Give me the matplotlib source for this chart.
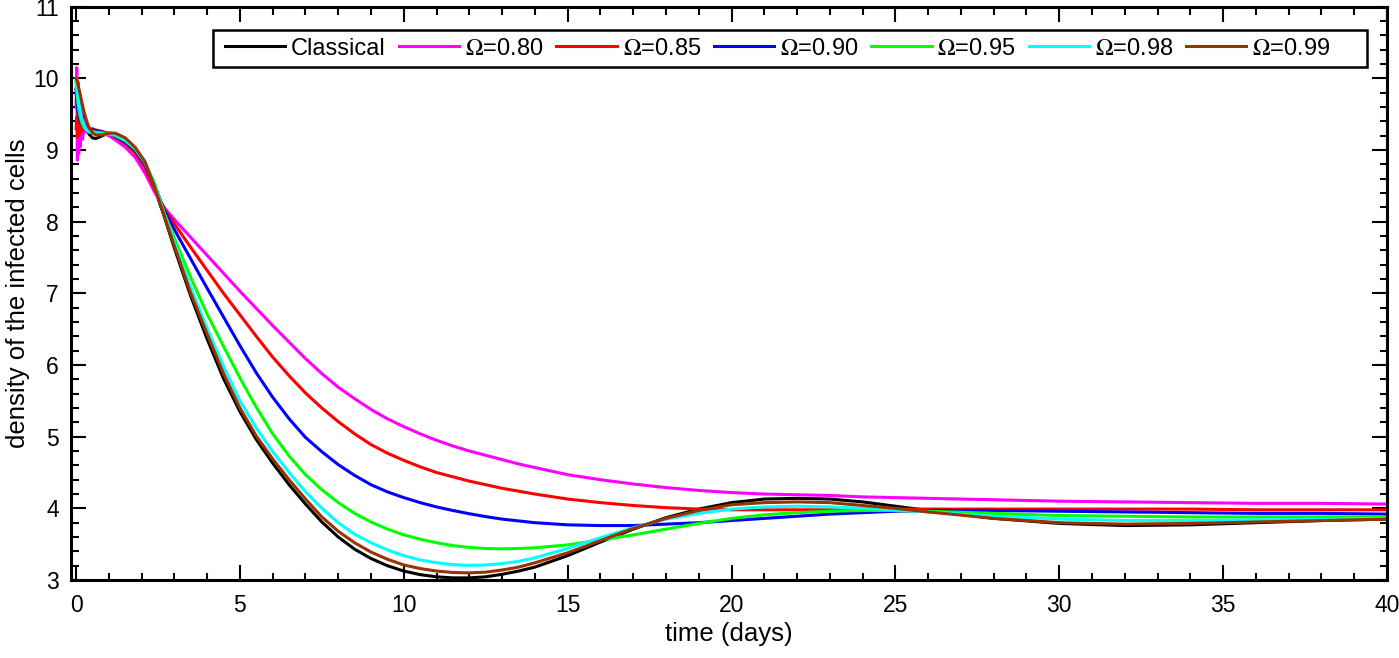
import matplotlib
matplotlib.use('Agg')
import matplotlib.pyplot as plt
from matplotlib.ticker import MultipleLocator
from matplotlib.patches import Rectangle

plt.rcParams['font.family'] = ['Liberation Sans', 'DejaVu Sans']
plt.rcParams['mathtext.fontset'] = 'stix'

# time grid (days): fine steps near t=0 where the fractional curves oscillate
t_early = [0, 0.02, 0.04, 0.06, 0.08, 0.1, 0.13, 0.16, 0.2, 0.25, 0.3, 0.35, 0.4, 0.5]
t_main = [0.6, 0.8, 1.0, 1.2, 1.5, 1.8, 2.1, 2.4, 2.7, 3.0, 3.5, 4.0, 4.5, 5.0, 5.5, 6.0, 6.5,
          7.0, 7.5, 8.0, 8.5, 9.0, 9.5, 10, 10.5, 11, 11.5, 12, 12.5, 13, 13.5, 14,
          15, 16, 17, 18, 19, 20, 21, 22, 23, 24, 25, 26,
          28, 30, 32, 34, 36, 38, 40]
t_days = t_early + t_main

labels = ['Classical', r'$\Omega$=0.80', r'$\Omega$=0.85', r'$\Omega$=0.90',
          r'$\Omega$=0.95', r'$\Omega$=0.98', r'$\Omega$=0.99']
colors = ['#000000', '#FF00FF', '#FF0000', '#0000FF', '#00FF00', '#00FFFF', '#993300']

classical = [10.0, 9.97, 9.93, 9.88, 9.83, 9.78, 9.7, 9.62, 9.53, 9.43, 9.34, 9.27, 9.22, 9.17,
             9.16, 9.2, 9.235, 9.23, 9.16, 9.02, 8.8, 8.46, 8.06, 7.63, 6.96, 6.36, 5.81, 5.35, 4.96, 4.63, 4.33,
             4.06, 3.81, 3.6, 3.43, 3.3, 3.2, 3.125, 3.075, 3.045, 3.03, 3.03, 3.045, 3.08, 3.125, 3.18,
             3.34, 3.53, 3.71, 3.87, 3.99, 4.08, 4.13, 4.14, 4.13, 4.09, 4.03, 3.97,
             3.86, 3.79, 3.76, 3.77, 3.8, 3.83, 3.85]
om080 = [9.6, 10.15, 8.86, 9.95, 8.95, 9.8, 9.05, 9.6, 9.15, 9.42, 9.25, 9.33, 9.29, 9.3,
         9.27, 9.24, 9.2, 9.14, 9.04, 8.9, 8.68, 8.41, 8.19, 8.03, 7.78, 7.53, 7.28, 7.03, 6.79, 6.55, 6.32,
         6.09, 5.88, 5.69, 5.53, 5.38, 5.25, 5.14, 5.04, 4.95, 4.87, 4.8, 4.74, 4.68, 4.62, 4.57,
         4.47, 4.4, 4.34, 4.29, 4.25, 4.22, 4.2, 4.19, 4.18, 4.16, 4.15, 4.14,
         4.12, 4.1, 4.09, 4.08, 4.07, 4.07, 4.06]
om085 = [9.3, 9.46, 9.18, 9.44, 9.2, 9.4, 9.24, 9.36, 9.27, 9.33, 9.29, 9.3, 9.29, 9.29,
         9.28, 9.26, 9.23, 9.18, 9.09, 8.96, 8.76, 8.45, 8.17, 7.97, 7.64, 7.32, 7.0, 6.7, 6.4, 6.11, 5.85,
         5.61, 5.4, 5.21, 5.04, 4.89, 4.77, 4.67, 4.58, 4.5, 4.44, 4.38, 4.33, 4.28, 4.24, 4.2,
         4.13, 4.08, 4.04, 4.01, 3.99, 3.98, 3.98, 3.98, 3.98, 3.98, 3.99, 3.99,
         3.99, 3.99, 3.99, 3.99, 3.98, 3.98, 3.98]
om090 = [9.85, 9.7, 9.6, 9.53, 9.48, 9.44, 9.4, 9.37, 9.34, 9.31, 9.3, 9.29, 9.28, 9.28,
         9.27, 9.25, 9.23, 9.19, 9.11, 9.0, 8.8, 8.5, 8.15, 7.89, 7.48, 7.07, 6.67, 6.27, 5.89, 5.55, 5.25,
         4.99, 4.79, 4.61, 4.46, 4.33, 4.23, 4.15, 4.08, 4.02, 3.97, 3.925, 3.885, 3.85, 3.825, 3.8,
         3.77, 3.76, 3.76, 3.78, 3.8, 3.83, 3.86, 3.89, 3.92, 3.94, 3.96, 3.97,
         3.97, 3.96, 3.95, 3.94, 3.93, 3.93, 3.92]
om095 = [9.95, 9.82, 9.72, 9.64, 9.57, 9.51, 9.45, 9.4, 9.35, 9.31, 9.29, 9.27, 9.26, 9.26,
         9.25, 9.24, 9.23, 9.2, 9.13, 9.02, 8.83, 8.53, 8.11, 7.77, 7.22, 6.71, 6.26, 5.82, 5.41, 5.04, 4.73,
         4.47, 4.26, 4.08, 3.93, 3.81, 3.71, 3.63, 3.57, 3.52, 3.48, 3.455, 3.44, 3.435, 3.44, 3.45,
         3.49, 3.56, 3.63, 3.71, 3.79, 3.86, 3.91, 3.94, 3.96, 3.97, 3.97, 3.96,
         3.93, 3.9, 3.89, 3.88, 3.88, 3.88, 3.88]
om098 = [10.0, 9.9, 9.82, 9.74, 9.67, 9.61, 9.53, 9.46, 9.4, 9.34, 9.3, 9.27, 9.25, 9.24,
         9.23, 9.22, 9.225, 9.21, 9.14, 9.02, 8.83, 8.5, 8.09, 7.71, 7.08, 6.51, 5.98, 5.5, 5.12, 4.79, 4.5,
         4.23, 4.0, 3.8, 3.64, 3.52, 3.42, 3.34, 3.28, 3.24, 3.215, 3.205, 3.21, 3.23, 3.26, 3.31,
         3.44, 3.59, 3.73, 3.85, 3.93, 3.99, 4.02, 4.03, 4.02, 4.0, 3.98, 3.95,
         3.89, 3.85, 3.83, 3.83, 3.84, 3.85, 3.86]
om099 = [10.0, 9.98, 9.95, 9.91, 9.87, 9.83, 9.77, 9.7, 9.62, 9.52, 9.44, 9.37, 9.31, 9.24,
         9.21, 9.21, 9.235, 9.235, 9.17, 9.04, 8.84, 8.48, 8.07, 7.66, 7.0, 6.43, 5.88, 5.4, 5.01, 4.69, 4.4,
         4.13, 3.88, 3.68, 3.52, 3.39, 3.29, 3.21, 3.16, 3.125, 3.105, 3.1, 3.11, 3.14, 3.18, 3.24,
         3.38, 3.55, 3.72, 3.86, 3.97, 4.05, 4.08, 4.09, 4.08, 4.04, 4.0, 3.95,
         3.86, 3.8, 3.78, 3.79, 3.81, 3.83, 3.85]

series = [classical, om080, om085, om090, om095, om098, om099]

fig = plt.figure(figsize=(13.99, 6.58), dpi=100)
ax = fig.add_axes([0.0504, 0.1185, 0.9410, 0.8713])

for y, c, lab in zip(series, colors, labels):
    ax.plot(t_days, y, color=c, lw=2.2, label=lab)

ax.set_xlim(-0.17, 40)
ax.set_ylim(3, 11)
ax.xaxis.set_major_locator(MultipleLocator(5))
ax.xaxis.set_minor_locator(MultipleLocator(1))
ax.yaxis.set_major_locator(MultipleLocator(1))
ax.yaxis.set_minor_locator(MultipleLocator(0.2))
ax.tick_params(which='both', direction='in', top=True, right=True, width=1.5, labelsize=16.5)
ax.tick_params(which='major', length=10.5)
ax.tick_params(which='minor', length=5.4)
ax.tick_params(axis='x', pad=10)
ax.tick_params(axis='y', pad=8.5)
for s in ax.spines.values():
    s.set_linewidth(2.2)

ax.set_xlabel('time (days)', fontsize=18.5, labelpad=4)
ax.set_ylabel('density of the infected cells', fontsize=18.5, labelpad=2)

# legend frame drawn separately (the reference box has extra room on the right)
frame = Rectangle((0.1085, 0.8948), 0.8763, 0.0645, transform=ax.transAxes,
                  facecolor='white', edgecolor='black', lw=1.8, zorder=4.5)
ax.add_patch(frame)
leg = ax.legend(loc='center left', bbox_to_anchor=(0.1174, 0.927), borderaxespad=0,
                ncol=7, fontsize=17, handlelength=2.55, handletextpad=0.25,
                columnspacing=0.55, borderpad=0, frameon=False)
leg.set_zorder(5)

fig.savefig('out.png', dpi=100)
